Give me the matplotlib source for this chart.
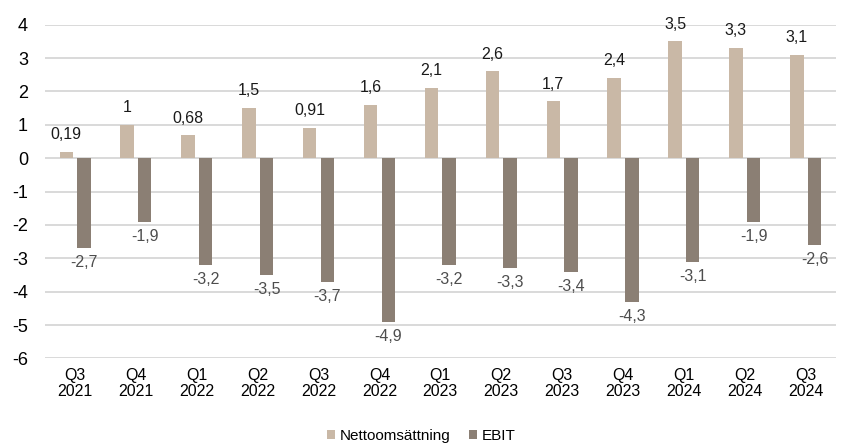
import numpy as np
from matplotlib import pyplot as plt

plt.rcParams['font.family'] = ['Liberation Sans', 'DejaVu Sans']

quarters = ["Q3\n2021", "Q4\n2021", "Q1\n2022", "Q2\n2022", "Q3\n2022", "Q4\n2022", "Q1\n2023",
            "Q2\n2023", "Q3\n2023", "Q4\n2023", "Q1\n2024", "Q2\n2024", "Q3\n2024"]
netto = [0.19, 1, 0.68, 1.5, 0.91, 1.6, 2.1, 2.6, 1.7, 2.4, 3.5, 3.3, 3.1]
ebit = [-2.7, -1.9, -3.2, -3.5, -3.7, -4.9, -3.2, -3.3, -3.4, -4.3, -3.1, -1.9, -2.6]

netto_color = "#c9b8a6"
ebit_color = "#8b7f74"

def fmt(v):
    return ("%g" % v).replace(".", ",")

fig = plt.figure(figsize=(8.42, 4.48), dpi=100)
ax = fig.add_axes([0.053, 0.2, 0.94, 0.745])

x = np.arange(len(quarters))
w = 0.22
off = 0.145
b1 = ax.bar(x - off, netto, w, color=netto_color, label="Nettoomsättning", zorder=3)
b2 = ax.bar(x + off, ebit, w, color=ebit_color, label="EBIT", zorder=3)

for r, v in zip(b1, netto):
    ax.annotate(fmt(v), (r.get_x() + r.get_width() / 2, v), xytext=(0, 7),
                textcoords="offset points", ha="center", va="bottom", fontsize=11.5, color="#1a1a1a")
for r, v in zip(b2, ebit):
    ax.annotate(fmt(v), (r.get_x() + r.get_width() / 2, v), xytext=(0, -5),
                textcoords="offset points", ha="center", va="top", fontsize=11.5, color="#4d4d4d")

ax.set_ylim(-6, 4)
ax.set_xlim(-0.5, len(quarters) - 0.5)
ax.set_yticks(range(-6, 5))
ax.set_yticklabels([str(t) for t in range(-6, 5)], fontsize=13)
ax.set_xticks(x)
ax.set_xticklabels(quarters, fontsize=11.5, linespacing=1.05)
ax.tick_params(length=0, pad=7)
ax.tick_params(axis="y", pad=12)
ax.grid(axis="y", color="#d9d9d9", linewidth=1.4, zorder=0)
for s in ax.spines.values():
    s.set_visible(False)

fig.legend(loc="lower center", bbox_to_anchor=(0.5, -0.02), ncol=2, frameon=False, fontsize=11,
           handlelength=0.55, handleheight=0.55, handletextpad=0.3, columnspacing=1.2)

fig.savefig("out.png", dpi=100)
